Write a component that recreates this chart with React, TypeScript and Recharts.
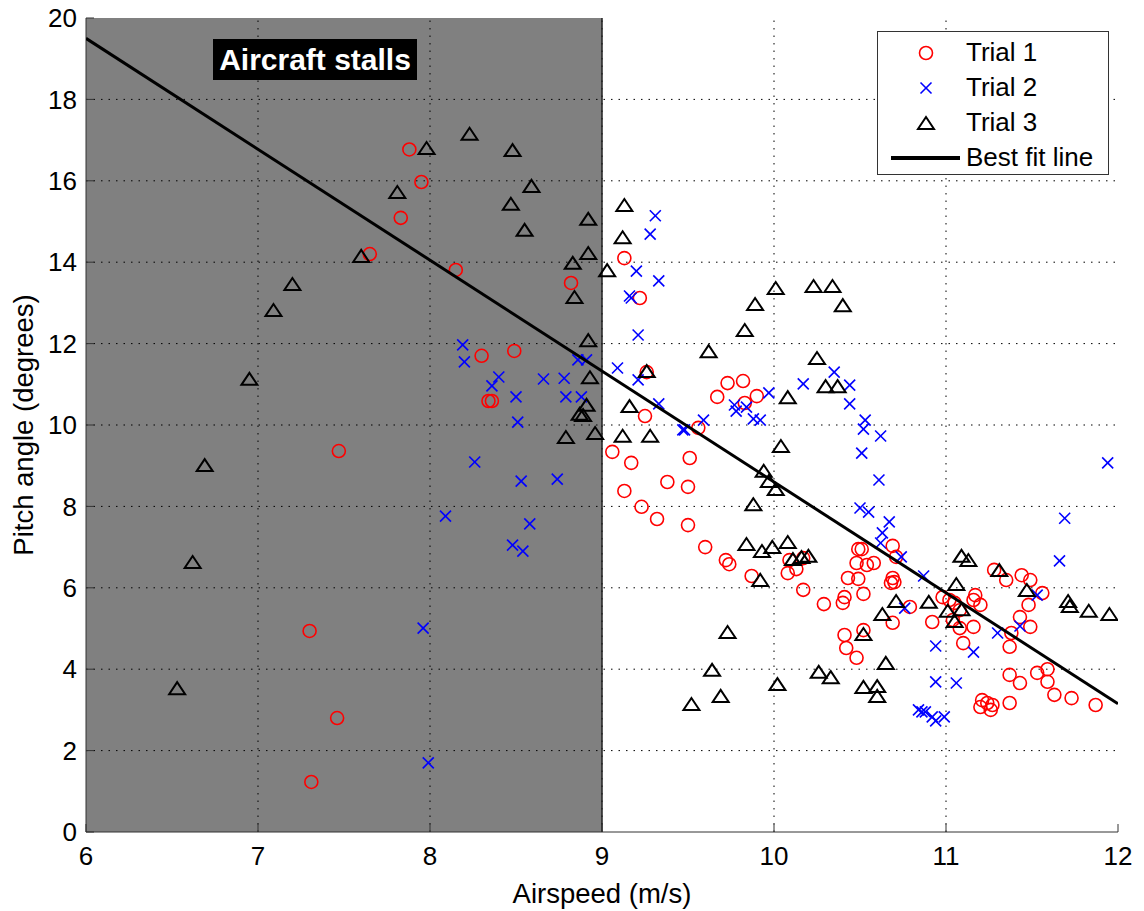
import { ScatterChart, Scatter, XAxis, YAxis, ReferenceArea, ReferenceLine } from "recharts";

// axis ticks
const xTicks = [6, 7, 8, 9, 10, 11, 12];
const yTicks = [0, 2, 4, 6, 8, 10, 12, 14, 16, 18, 20];
const stallSpeed = 9;

// [airspeed, pitch]
const trial1: [number, number][] = [
  [7.88, 16.77], [7.95, 15.97], [7.83, 15.09], [7.65, 14.2], [8.15, 13.81], [8.82, 13.49],
  [8.3, 11.7], [8.49, 11.82], [8.34, 10.59], [8.36, 10.59], [7.47, 9.36], [7.3, 4.94],
  [7.46, 2.8], [7.31, 1.23], [9.13, 14.1], [9.22, 13.12], [9.26, 11.3], [9.25, 10.22],
  [9.73, 11.03], [9.82, 11.08], [9.67, 10.69], [9.83, 10.54], [9.9, 10.71], [9.56, 9.93],
  [9.06, 9.34], [9.17, 9.07], [9.51, 9.19], [9.38, 8.6], [9.5, 8.48], [9.13, 8.38],
  [9.23, 7.99], [9.32, 7.69], [9.5, 7.54], [9.6, 7.0], [9.72, 6.68], [9.74, 6.58],
  [9.87, 6.29], [10.09, 6.68], [10.08, 6.36], [10.13, 6.46], [10.17, 6.73], [10.17, 5.95],
  [10.29, 5.6], [10.41, 5.77], [10.4, 5.63], [10.49, 6.95], [10.48, 6.61], [10.43, 6.24],
  [10.49, 6.22], [10.41, 4.84], [10.42, 4.52], [10.48, 4.28], [10.69, 7.03], [10.51, 6.95],
  [10.71, 6.76], [10.54, 6.56], [10.58, 6.61], [10.69, 6.24], [10.7, 6.14], [10.68, 6.12],
  [10.52, 5.85], [10.79, 5.53], [10.69, 5.14], [10.52, 4.96], [10.92, 5.16], [10.98, 5.77],
  [11.02, 5.7], [11.05, 5.63], [11.08, 5.45], [11.04, 5.21], [11.08, 5.01], [11.16, 5.04],
  [11.1, 4.64], [11.17, 5.82], [11.16, 5.7], [11.2, 5.58], [11.28, 6.44], [11.35, 6.19],
  [11.44, 6.31], [11.49, 6.19], [11.56, 5.87], [11.48, 5.58], [11.43, 5.28], [11.49, 5.04],
  [11.38, 4.89], [11.37, 4.55], [11.37, 3.86], [11.43, 3.66], [11.53, 3.91], [11.59, 4.0],
  [11.59, 3.69], [11.63, 3.37], [11.73, 3.29], [11.87, 3.12], [11.37, 3.17], [11.21, 3.24],
  [11.24, 3.17], [11.26, 3.0], [11.2, 3.07], [11.27, 3.12],
];

const trial2: [number, number][] = [
  [7.99, 1.7], [7.96, 5.01], [8.09, 7.76], [8.26, 9.09], [8.19, 11.97], [8.2, 11.55],
  [8.4, 11.18], [8.36, 10.96], [8.5, 10.69], [8.66, 11.13], [8.78, 11.15], [8.79, 10.69],
  [8.88, 10.69], [8.86, 11.6], [8.91, 11.6], [8.51, 10.07], [8.53, 8.62], [8.74, 8.67],
  [8.58, 7.57], [8.48, 7.05], [8.54, 6.9], [9.31, 15.14], [9.28, 14.69], [9.2, 13.78],
  [9.33, 13.54], [9.16, 13.17], [9.17, 13.12], [9.21, 12.21], [9.09, 11.4], [9.21, 11.11],
  [9.33, 10.52], [9.59, 10.12], [9.47, 9.88], [9.48, 9.88], [9.77, 10.49], [9.78, 10.34],
  [9.84, 10.44], [9.88, 10.15], [9.92, 10.12], [9.97, 10.79], [10.17, 11.01], [10.35, 11.3],
  [10.44, 10.98], [10.44, 10.52], [10.53, 10.12], [10.52, 9.9], [10.62, 9.73], [10.51, 9.31],
  [10.61, 8.65], [10.5, 7.96], [10.55, 7.86], [10.67, 7.62], [11.94, 9.07], [11.69, 7.71],
  [10.63, 7.35], [10.62, 7.1], [10.74, 6.76], [10.87, 6.29], [10.76, 5.5], [10.94, 4.57],
  [11.16, 4.42], [10.94, 3.69], [11.06, 3.66], [10.84, 3.0], [10.86, 2.95], [10.88, 2.95],
  [10.92, 2.83], [10.94, 2.73], [10.99, 2.83], [11.3, 4.89], [11.43, 5.06], [11.53, 5.82],
  [11.66, 6.66],
];

const trial3: [number, number][] = [
  [6.53, 3.51], [7.2, 13.44], [7.09, 12.8], [6.95, 11.11], [6.69, 8.99], [6.62, 6.61],
  [7.98, 16.78], [8.23, 17.13], [8.48, 16.73], [8.59, 15.85], [8.47, 15.41], [7.81, 15.7],
  [8.55, 14.77], [7.6, 14.13], [8.92, 15.04], [8.92, 14.2], [8.83, 13.96], [8.84, 13.12],
  [9.03, 13.78], [8.92, 12.06], [8.93, 11.15], [8.91, 10.47], [8.87, 10.25], [8.89, 10.22],
  [8.79, 9.68], [8.96, 9.78], [9.13, 15.38], [9.12, 14.59], [9.26, 11.3], [9.16, 10.44],
  [9.12, 9.71], [9.28, 9.71], [9.62, 11.79], [9.83, 12.31], [9.89, 12.95], [10.01, 13.34],
  [10.23, 13.39], [10.34, 13.39], [10.4, 12.92], [10.25, 11.62], [10.3, 10.93], [10.37, 10.93],
  [10.08, 10.66], [10.04, 9.46], [9.94, 8.85], [9.97, 8.6], [10.01, 8.4], [9.88, 8.03],
  [9.84, 7.05], [9.93, 6.88], [9.99, 6.98], [10.08, 7.1], [10.11, 6.68], [10.16, 6.73],
  [10.2, 6.76], [9.92, 6.17], [9.73, 4.89], [9.64, 3.96], [9.69, 3.32], [9.52, 3.12],
  [10.02, 3.61], [10.26, 3.91], [10.33, 3.78], [11.09, 6.76], [11.13, 6.66], [11.31, 6.41],
  [11.06, 6.07], [11.47, 5.92], [11.71, 5.65], [11.72, 5.53], [11.83, 5.41], [11.95, 5.33],
  [10.71, 5.65], [10.9, 5.63], [10.63, 5.33], [11.01, 5.41], [11.09, 5.45], [11.05, 5.16],
  [10.52, 4.84], [10.65, 4.13], [10.52, 3.54], [10.6, 3.56], [10.6, 3.32],
];

// best fit line end points
const fitX = [6, 12];
const fitY = [19.5, 3.15];

const toPoints = (arr: [number, number][]) => arr.map(([x, y]) => ({ x, y }));
const fitData = fitX.map((x, i) => ({ x, y: fitY[i] }));

const FONT = '"Liberation Sans", Arial, sans-serif';
const AXIS = "#333";

const CircleMark = (p: any) => (
  <circle cx={p.cx} cy={p.cy} r={6.5} fill="none" stroke="#ff0000" strokeWidth={1.6} />
);
const CrossMark = (p: any) => (
  <g stroke="#0000ff" strokeWidth={1.6}>
    <line x1={p.cx - 5.5} y1={p.cy - 5.5} x2={p.cx + 5.5} y2={p.cy + 5.5} />
    <line x1={p.cx - 5.5} y1={p.cy + 5.5} x2={p.cx + 5.5} y2={p.cy - 5.5} />
  </g>
);
const TriMark = (p: any) => (
  <polygon
    points={`${p.cx},${p.cy - 7} ${p.cx - 8},${p.cy + 5} ${p.cx + 8},${p.cy + 5}`}
    fill="none"
    stroke="#000"
    strokeWidth={2}
  />
);

function LegendBox() {
  const rows = [
    { name: "Trial 1", icon: <CircleMark cx={48} cy={20} /> },
    { name: "Trial 2", icon: <CrossMark cx={48} cy={20} /> },
    { name: "Trial 3", icon: <TriMark cx={48} cy={21} /> },
    { name: "Best fit line", icon: <line x1={13} y1={20} x2={82} y2={20} stroke="#000" strokeWidth={4} /> },
  ];
  return (
    <div
      style={{
        position: "absolute",
        left: 877,
        top: 31,
        width: 232,
        height: 144,
        background: "#fff",
        border: "1px solid #333",
        boxSizing: "border-box",
        paddingTop: 3,
      }}
    >
      {rows.map((r) => (
        <div key={r.name} style={{ display: "flex", alignItems: "center", height: 35 }}>
          <svg width={88} height={40} style={{ flex: "none" }}>
            {r.icon}
          </svg>
          <span style={{ fontFamily: FONT, fontSize: 26, color: "#000", whiteSpace: "nowrap" }}>
            {r.name}
          </span>
        </div>
      ))}
    </div>
  );
}

export default function App() {
  return (
    <div style={{ position: "absolute", left: 0, top: 0, width: 1144, height: 911, background: "#fff", fontFamily: FONT }}>
      <ScatterChart width={1144} height={911} margin={{ top: 18, right: 26, left: 0, bottom: 0 }}>
        <XAxis
          type="number"
          dataKey="x"
          domain={[6, 12]}
          ticks={xTicks}
          interval={0}
          allowDataOverflow
          height={79}
          tickSize={-8}
          tickMargin={23}
          axisLine={{ stroke: AXIS }}
          tickLine={{ stroke: AXIS }}
          tick={{ fill: "#000", fontSize: 26, fontFamily: FONT }}
          label={{
            content: (props: any) => {
              const vb = props.viewBox;
              return (
                <text x={vb.x + vb.width / 2} y={903} textAnchor="middle" fontSize={27.5} fontFamily={FONT} fill="#000">
                  Airspeed (m/s)
                </text>
              );
            },
          }}
        />
        <YAxis
          type="number"
          dataKey="y"
          domain={[0, 20]}
          ticks={yTicks}
          interval={0}
          allowDataOverflow
          width={86}
          tickSize={-8}
          tickMargin={17}
          axisLine={{ stroke: AXIS }}
          tickLine={{ stroke: AXIS }}
          tick={{ fill: "#000", fontSize: 26, fontFamily: FONT }}
          label={{
            content: (props: any) => {
              const vb = props.viewBox;
              const cx = 33;
              const cy = vb.y + vb.height / 2;
              return (
                <text x={cx} y={cy} transform={`rotate(-90 ${cx} ${cy})`} textAnchor="middle" fontSize={27.5} fontFamily={FONT} fill="#000">
                  Pitch angle (degrees)
                </text>
              );
            },
          }}
        />
        <XAxis
          xAxisId="top"
          orientation="top"
          type="number"
          domain={[6, 12]}
          ticks={xTicks}
          interval={0}
          height={0}
          tickSize={-8}
          axisLine={{ stroke: AXIS }}
          tickLine={{ stroke: AXIS }}
          tick={() => <g />}
        />
        <YAxis
          yAxisId="right"
          orientation="right"
          type="number"
          domain={[0, 20]}
          ticks={yTicks}
          interval={0}
          width={0}
          tickSize={-8}
          axisLine={{ stroke: AXIS }}
          tickLine={{ stroke: AXIS }}
          tick={() => <g />}
        />

        <ReferenceArea x1={6} x2={stallSpeed} y1={0} y2={20} fill="#808080" fillOpacity={1} stroke="none" />

        {xTicks.slice(1, -1).map((v) => (
          <ReferenceLine key={"gx" + v} x={v} stroke="#000" strokeDasharray="1.5 6" strokeWidth={1} />
        ))}
        {yTicks.slice(1, -1).map((v) => (
          <ReferenceLine key={"gy" + v} y={v} stroke="#000" strokeDasharray="1.5 6" strokeWidth={1} />
        ))}
        <ReferenceLine x={stallSpeed} stroke="#222" strokeWidth={1.5} />

        <Scatter name="Trial 1" data={toPoints(trial1)} shape={CircleMark} isAnimationActive={false} />
        <Scatter name="Trial 2" data={toPoints(trial2)} shape={CrossMark} isAnimationActive={false} />
        <Scatter name="Trial 3" data={toPoints(trial3)} shape={TriMark} isAnimationActive={false} />
        <Scatter
          name="Best fit line"
          data={fitData}
          line={{ stroke: "#000", strokeWidth: 3 }}
          shape={() => <g />}
          isAnimationActive={false}
        />
      </ScatterChart>

      <div
        style={{
          position: "absolute",
          left: 213,
          top: 39,
          width: 204,
          height: 41,
          background: "#000",
          color: "#fff",
          fontFamily: FONT,
          fontWeight: "bold",
          fontSize: 30,
          lineHeight: "41px",
          textAlign: "center",
        }}
      >
        Aircraft stalls
      </div>
      <LegendBox />
    </div>
  );
}
